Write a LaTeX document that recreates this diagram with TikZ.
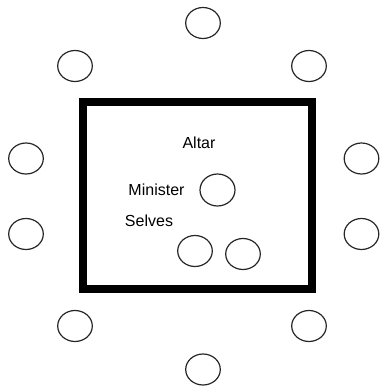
\documentclass[tikz,border=0pt]{standalone}
\usepackage{fontspec}
\setmainfont{Liberation Sans}
\usepackage{tikz}

\tikzset{
    seat/.style={draw=black!85, line width=1.2pt},
    label/.style={font=\fontsize{16}{19}\selectfont, inner sep=0pt}
}

\begin{document}
\begin{tikzpicture}[x=1pt, y=-1pt]
                \useasboundingbox (0, 0) rectangle (380, 388);
                \draw[line width=8pt] (83, 101.5) rectangle (311.5, 288.5);
                % seats round the outside
                \foreach \sx/\sy in {203/23, 75/66, 309/66, 26/158.5, 361.5/158.5, 26/234, 361.5/234, 75/326, 309/326, 203/369.5}
                    \draw[seat] (\sx, \sy) ellipse (17.3 and 15.5);
                % inside
                \node[label] (altar) at (199, 143) {Altar};
                \node[label] (minister) at (156.5, 190) {Minister};
                \node[label] (selves) at (149, 220.5) {Selves};
                \draw[seat] (217.5, 190) ellipse (17.5 and 16);
                \draw[seat] (195, 251) ellipse (17.3 and 15.5);
                \draw[seat] (243, 254) ellipse (17.3 and 15.5);
            \end{tikzpicture}
\end{document}
